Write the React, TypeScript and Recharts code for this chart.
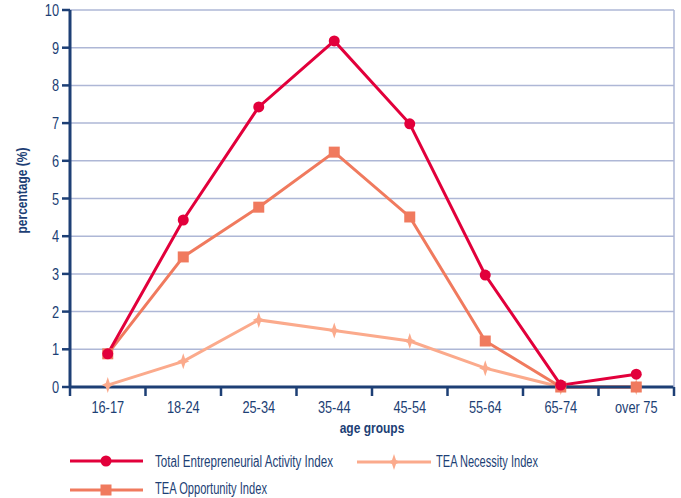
import React from "react"
import {
  LineChart,
  Line,
  XAxis,
  YAxis,
  CartesianGrid,
} from "recharts"

const AGE_GROUPS = ["16-17", "18-24", "25-34", "35-44", "45-54", "55-64", "65-74", "over 75"]
const TEA_TOTAL = [0.88, 4.43, 7.43, 9.18, 6.98, 2.97, 0.05, 0.34]
const TEA_OPPORTUNITY = [0.88, 3.45, 4.77, 6.23, 4.51, 1.22, 0, 0]
const TEA_NECESSITY = [0.05, 0.68, 1.78, 1.5, 1.22, 0.5, 0, 0]
const Y_TICKS = [0, 1, 2, 3, 4, 5, 6, 7, 8, 9, 10]

const NAVY = "#1d3f75"
const GRID = "#aeb7d6"
const RED = "#e2003b"
const SALMON = "#f07a5e"
const PEACH = "#fbaa8c"
const FONT = "'Liberation Sans', Arial, sans-serif"
const SQUEEZE = 0.8

const data = AGE_GROUPS.map((g, i) => ({
  group: g,
  total: TEA_TOTAL[i],
  opportunity: TEA_OPPORTUNITY[i],
  necessity: TEA_NECESSITY[i],
}))

// narrow text: the original uses a condensed face, so squeeze a regular one
function NarrowText({ x, y, anchor = "start", size = 16, bold = false, rotate = 0, children }: any) {
  return (
    <g transform={`translate(${x},${y}) rotate(${rotate}) scale(${SQUEEZE},1)`}>
      <text
        x={0}
        y={0}
        textAnchor={anchor}
        fill={NAVY}
        fontSize={size}
        fontFamily={FONT}
        fontWeight={bold ? "bold" : "normal"}
      >
        {children}
      </text>
    </g>
  )
}

function starPath(cx: number, cy: number, w: number, h: number) {
  const a = w / 2
  const b = h / 2
  const k = 2
  return `M${cx},${cy - b} L${cx + k},${cy - k} L${cx + a},${cy} L${cx + k},${cy + k} L${cx},${cy + b} L${cx - k},${cy + k} L${cx - a},${cy} L${cx - k},${cy - k} Z`
}

function CircleDot(props: any) {
  const { cx, cy } = props
  if (cx == null || cy == null) return null
  return <circle cx={cx} cy={cy} r={5.5} fill={RED} />
}

function SquareDot(props: any) {
  const { cx, cy } = props
  if (cx == null || cy == null) return null
  return <rect x={cx - 5.5} y={cy - 5.5} width={11} height={11} fill={SALMON} />
}

function StarDot(props: any) {
  const { cx, cy } = props
  if (cx == null || cy == null) return null
  return <path d={starPath(cx, cy, 12, 16)} fill={PEACH} />
}

function GroupTick(props: any) {
  const { x, y, payload, index } = props
  const half = payload?.offset ?? 37.75
  const last = index === AGE_GROUPS.length - 1
  return (
    <g>
      <line x1={x - half} x2={x - half} y1={y - 8} y2={y + 1} stroke={NAVY} strokeWidth={2.5} />
      {last && (
        <line x1={x + half} x2={x + half} y1={y - 8} y2={y + 1} stroke={NAVY} strokeWidth={2.5} />
      )}
      <NarrowText x={x} y={y + 18} anchor="middle">{payload.value}</NarrowText>
    </g>
  )
}

function ValueTick(props: any) {
  const { x, y, payload } = props
  return <NarrowText x={x - 1} y={y + 6} anchor="end">{payload.value}</NarrowText>
}

function YTitle(props: any) {
  const vb = props.viewBox || { x: 0, y: 10, width: 70, height: 377 }
  return (
    <NarrowText x={vb.x + 27} y={vb.y + vb.height / 2 - 8} anchor="middle" size={15} bold rotate={-90}>
      percentage (%)
    </NarrowText>
  )
}

function XTitle(props: any) {
  const vb = props.viewBox || { x: 70, y: 387, width: 604, height: 45 }
  return (
    <NarrowText x={vb.x + vb.width / 2} y={vb.y + 46} anchor="middle" size={15} bold>
      age groups
    </NarrowText>
  )
}

function Legend() {
  const text = { fill: NAVY, fontSize: 16, fontFamily: FONT, lengthAdjust: "spacingAndGlyphs" }
  return (
    <svg width={681} height={58} style={{ position: "absolute", left: 0, top: 440 }}>
      <line x1={70} x2={143} y1={21} y2={21} stroke={RED} strokeWidth={3} />
      <circle cx={106} cy={21} r={5.5} fill={RED} />
      <text x={155} y={27} textLength={178} {...text}>Total Entrepreneurial Activity Index</text>

      <line x1={357} x2={431} y1={22} y2={22} stroke={PEACH} strokeWidth={3} />
      <path d={starPath(394, 22, 12, 16)} fill={PEACH} />
      <text x={436} y={27} textLength={102} {...text}>TEA Necessity Index</text>

      <line x1={70} x2={143} y1={50} y2={50} stroke={SALMON} strokeWidth={3} />
      <rect x={100.5} y={44.5} width={11} height={11} fill={SALMON} />
      <text x={155} y={54} textLength={112} {...text}>TEA Opportunity Index</text>
    </svg>
  )
}

export default function App() {
  return (
    <div style={{ position: "absolute", left: 0, top: 0, width: 681, height: 498, background: "#fff", overflow: "hidden" }}>
      <LineChart
        width={681}
        height={440}
        data={data}
        margin={{ top: 10, right: 0, left: 0, bottom: 8 }}
      >
        <CartesianGrid vertical={false} stroke={GRID} strokeWidth={1.5} />
        <XAxis
          dataKey="group"
          scale="band"
          height={45}
          axisLine={{ stroke: NAVY, strokeWidth: 3 }}
          tickLine={false}
          tick={<GroupTick />}
          interval={0}
          label={<XTitle />}
        />
        <YAxis
          width={70}
          domain={[0, 10]}
          ticks={Y_TICKS}
          interval={0}
          axisLine={{ stroke: NAVY, strokeWidth: 3 }}
          tickLine={{ stroke: NAVY, strokeWidth: 2.5 }}
          tickSize={8}
          tick={<ValueTick />}
          label={<YTitle />}
        />
        <YAxis
          yAxisId="frame"
          orientation="right"
          width={7}
          domain={[0, 10]}
          tick={false}
          tickLine={false}
          axisLine={{ stroke: GRID, strokeWidth: 1.5 }}
        />
        <Line
          dataKey="necessity"
          stroke={PEACH}
          strokeWidth={3}
          dot={<StarDot />}
          activeDot={false}
          isAnimationActive={false}
        />
        <Line
          dataKey="opportunity"
          stroke={SALMON}
          strokeWidth={3}
          dot={<SquareDot />}
          activeDot={false}
          isAnimationActive={false}
        />
        <Line
          dataKey="total"
          stroke={RED}
          strokeWidth={3}
          dot={<CircleDot />}
          activeDot={false}
          isAnimationActive={false}
        />
      </LineChart>
      <Legend />
    </div>
  )
}
